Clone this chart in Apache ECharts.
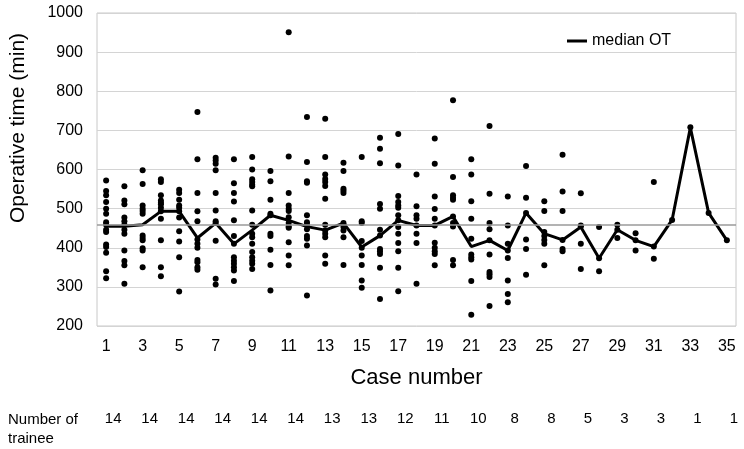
<!DOCTYPE html>
<html>
<head>
<meta charset="utf-8">
<script src="https://cdn.jsdelivr.net/npm/echarts@6/dist/echarts.min.js"></script>
<style>
  html, body { margin: 0; padding: 0; background: #fff; }
  #chart { width: 744px; height: 449px; }
</style>
</head>
<body>
<div id="chart"></div>
<script>
  // case numbers 1..35
  var cases = ['1','2','3','4','5','6','7','8','9','10','11','12','13','14','15','16','17','18',
    '19','20','21','22','23','24','25','26','27','28','29','30','31','32','33','34','35'];

  // operative time (min) of each trainee, per case
  var otPoints = [
    [572,545,534,517,500,487,465,459,446,440,408,402,387,340,322],
    [557,521,511,477,468,459,446,436,393,366,355,308],
    [598,563,508,500,494,487,431,425,419,399,393,350],
    [575,568,534,521,515,511,502,493,474,419,350,327],
    [548,540,523,508,502,493,477,442,416,376,288],
    [747,626,540,493,468,421,410,400,369,363,350,344],
    [630,623,615,598,540,495,468,463,418,321,306],
    [626,565,540,518,470,430,410,376,367,359,350,342,315],
    [632,600,575,568,561,557,495,459,436,427,410,389,376,367,359,346],
    [596,570,523,487,483,436,430,395,356,291],
    [951,633,540,508,500,494,478,463,454,451,414,380,355],
    [734,619,570,566,483,465,459,447,430,423,406,278],
    [730,632,587,576,568,558,525,459,444,436,427,380,359],
    [617,596,551,546,540,463,459,453,444,427,356],
    [632,468,463,417,400,380,356,316,298],
    [681,653,616,512,500,446,431,397,391,384,349,269],
    [691,610,532,517,508,502,483,470,453,436,412,391,349,289],
    [587,506,483,474,457,436,412,308],
    [679,615,531,499,474,457,413,400,391,384,355],
    [777,581,534,528,523,480,463,454,369,355],
    [626,587,519,474,423,383,376,370,315,229],
    [711,538,463,447,419,383,338,332,325,251],
    [531,457,410,393,374,316,282,261],
    [609,528,489,421,397,331],
    [519,494,440,430,420,410,355],
    [638,544,494,420,397,391],
    [539,457,455,410,346],
    [453,373,340],
    [459,446,425],
    [437,419,393],
    [568,403,372],
    [471],
    [708],
    [489],
    [419]
  ];

  var medianOT = [455,455,459,493,493,425,463,410,445,483,470,454,445,463,402,431,470,457,
    457,480,403,419,393,489,436,420,453,373,446,419,403,471,707,489,419];

  var overallMedian = 460;

  // trainees shown under cases 1,3,5,...,35
  var traineeCounts = [14,14,14,14,14,14,13,13,12,11,10,8,8,5,3,3,1,1];

  var yTicks = { min: 200, max: 1000, step: 100 };

  var scatterData = [];
  otPoints.forEach(function (list, i) {
    list.forEach(function (v) { scatterData.push([i, v]); });
  });

  var font = 'Liberation Sans, Arial, sans-serif';
  var myChart = echarts.init(document.getElementById('chart'));
  myChart.setOption({
    animation: false,
    backgroundColor: '#fff',
    textStyle: { fontFamily: font, color: '#000' },
    grid: {
      left: 97, right: 8, top: 13, bottom: 123,
      show: true, borderColor: '#c8c8c8', borderWidth: 1
    },
    legend: {
      data: ['median OT'],
      left: 562, top: 28,
      icon: 'rect',
      itemWidth: 20, itemHeight: 3,
      textStyle: { fontFamily: font, fontSize: 16, color: '#000' }
    },
    graphic: [
      {
        type: 'text', x: 18, y: 128, rotation: Math.PI / 2,
        style: { text: 'Operative time (min)', font: '21px ' + font, fill: '#000',
          align: 'center', verticalAlign: 'middle' }
      },
      {
        type: 'text', left: 8, top: 410,
        style: { text: 'Number of\ntrainee', font: '15px ' + font, fill: '#000', lineHeight: 19 }
      }
    ],
    xAxis: [
      {
        type: 'category',
        data: cases,
        boundaryGap: true,
        axisLine: { show: false },
        axisTick: { show: false },
        axisLabel: { interval: 1, fontSize: 16, color: '#000', margin: 13, fontFamily: font },
        name: 'Case number',
        nameLocation: 'middle',
        nameGap: 41,
        nameTextStyle: { fontSize: 22, color: '#000', fontFamily: font }
      },
      {
        type: 'category',
        data: cases,
        position: 'bottom',
        offset: 80,
        axisLine: { show: false },
        axisTick: { show: false },
        splitLine: { show: false },
        axisLabel: {
          interval: 1, fontSize: 15, color: '#000', margin: 5, fontFamily: font,
          padding: [0, 0, 0, 14],
          formatter: function (v, i) { return String(traineeCounts[i / 2]); }
        }
      }
    ],
    yAxis: {
      type: 'value',
      min: yTicks.min, max: yTicks.max, interval: yTicks.step,
      axisLine: { show: false },
      axisTick: { show: false },
      axisLabel: {
        fontSize: 16, color: '#000', margin: 14, fontFamily: font,
        formatter: function (v) { return String(v); }
      },
      splitLine: { lineStyle: { color: '#d4d4d4', width: 1 } }
    },
    series: [
      {
        name: 'OT',
        type: 'scatter',
        data: scatterData,
        symbolSize: 6,
        itemStyle: { color: '#000', opacity: 1 },
        z: 3
      },
      {
        name: 'median OT',
        type: 'line',
        data: medianOT,
        showSymbol: false,
        lineStyle: { color: '#000', width: 3 },
        itemStyle: { color: '#000' },
        z: 4,
        markLine: {
          silent: true,
          symbol: 'none',
          label: { show: false },
          lineStyle: { color: '#9a9a9a', width: 1.5, type: 'solid' },
          data: [{ yAxis: overallMedian }]
        }
      }
    ]
  });
</script>
</body>
</html>
